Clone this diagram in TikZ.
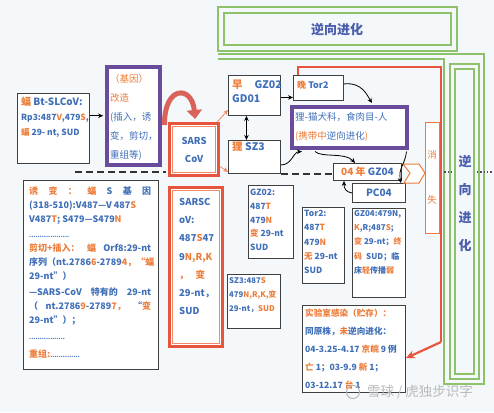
\documentclass[tikz,border=0pt]{standalone}
\usepackage{fontspec}
\setmainfont{Noto Sans CJK SC}
\usetikzlibrary{arrows.meta,calc}
\definecolor{tb}{HTML}{3F6FB8}
\definecolor{to}{HTML}{EE7D3A}
\definecolor{pur}{HTML}{6A4C9C}
\definecolor{grn}{HTML}{8DC26A}
\definecolor{rl}{HTML}{E8553E}
\definecolor{rl2}{HTML}{F08A68}
\definecolor{bord}{HTML}{404040}
\definecolor{bgc}{HTML}{F4F8FB}
\definecolor{vt}{HTML}{4B5FAE}
\definecolor{bigarr}{HTML}{D9625A}
\newcommand{\oc}[1]{\textcolor{to}{#1}}
\begin{document}
\begin{tikzpicture}[x=1pt,y=-1pt,
 box/.style={draw=bord,line width=0.9pt,fill=white,anchor=north west,inner sep=0pt},
 pbox/.style={draw=pur,line width=3.5pt,fill=white,anchor=north west,inner sep=0pt},
 rbox/.style={draw=rl,line width=3.2pt,fill=white,anchor=north west,inner sep=0pt},
 txt/.style={anchor=north west,inner sep=0pt,align=left,text=tb},
 arr/.style={-{Stealth[length=5pt,width=4.5pt]},line width=0.8pt,black},
 oarr/.style={-{Stealth[length=5pt,width=4.5pt]},line width=0.8pt,rl2},
 gl/.style={draw=grn,line width=2.2pt},
 dashln/.style={line width=1.3pt,dash pattern=on 7pt off 4pt,black!80},
]
\fill[bgc] (0,0) rectangle (494,412);
\useasboundingbox (0,0) rectangle (494,412);

% green frames
\draw[gl] (218,7) rectangle (457,51);
\draw[gl] (224,13) rectangle (451,45);
\node[text=vt,font=\fontsize{13}{15}\selectfont\bfseries] (ttl) at (337,30) {逆向进化};
\draw[gl] (218,54) -- (484,54) -- (484,384) -- (444,384) -- (444,59) -- (218,59);
\draw[gl] (450,64) rectangle (479,379);
\draw[gl] (455,69) rectangle (474,374);
\node[text=vt,font=\fontsize{13}{15}\selectfont\bfseries] (v1) at (465,162) {逆};
\node[text=vt,font=\fontsize{13}{15}\selectfont\bfseries] (v2) at (465,190) {向};
\node[text=vt,font=\fontsize{13}{15}\selectfont\bfseries] (v3) at (465,218) {进};
\node[text=vt,font=\fontsize{13}{15}\selectfont\bfseries] (v4) at (465,246) {化};
\coordinate (d1) at (441,172); \coordinate (d2) at (452,172);
\coordinate (d3) at (477,172); \coordinate (d4) at (492,172);
\draw[dotted,line width=1.3pt,black!70] (d1) -- (d2) (d3) -- (d4);

% boxes
\node[box,minimum width=72pt,minimum height=70pt] (bt) at (17,93) {};
\node[pbox,minimum width=53pt,minimum height=98pt] (pb1) at (105,65) {};
\node[rbox,minimum width=49pt,minimum height=52pt] (sars1) at (168,122) {};
\draw[rl2,line width=0.9pt] ($(sars1.north west)+(4.5,4.5)$) rectangle ($(sars1.south east)+(-4.5,-4.5)$);
\node[rbox,minimum width=53pt,minimum height=159pt] (sars2) at (168,186) {};
\draw[rl2,line width=0.9pt] ($(sars2.north west)+(4.5,4.5)$) rectangle ($(sars2.south east)+(-4.5,-4.5)$);
\node[box,minimum width=52pt,minimum height=40pt] (gd) at (228,75) {};
\node[box,minimum width=52pt,minimum height=33pt] (sz3) at (228,140) {};
\node[box,minimum width=50pt,minimum height=25pt] (tor2) at (293,75) {};
\node[pbox,minimum width=115pt,minimum height=41pt] (pb2) at (290,105) {};
\node[box,minimum width=68pt,minimum height=17pt] (gz04) at (333,163) {};
\node[box,minimum width=53pt,minimum height=19pt] (pc04) at (352,183) {};
\node[draw=to,line width=1pt,fill=white,anchor=north west,inner sep=0pt,minimum width=14pt,minimum height=111pt] (xs) at (425,122) {};
\draw[to,line width=1pt,fill=white] (403,164) -- (419,164) -- (425,173) -- (419,183) -- (404,183) -- (410,173) -- cycle;
\node[box,minimum width=135pt,minimum height=189pt] (lt) at (23,180) {};
\node[box,minimum width=45pt,minimum height=73pt] (gz02i) at (248,185) {};
\node[box,minimum width=42pt,minimum height=76pt] (tor2i) at (302,207) {};
\node[box,minimum width=53pt,minimum height=89pt] (gz04i) at (352,208) {};
\node[box,minimum width=53pt,minimum height=54pt] (sz3i) at (227,274) {};
\node[box,minimum width=103pt,minimum height=87pt] (lab) at (302,305) {};

% texts
\node[txt,font=\fontsize{8.5}{15}\selectfont\bfseries] (tbt) at (21,97) {{\fontsize{10}{15}\selectfont\oc{蝠} Bt-SLCoV:}\\Rp3:487\oc{V},479\oc{S},\\\oc{蝠} 29- nt, SUD};
\node[txt,font=\fontsize{9.5}{19}\selectfont] (tpb1) at (110,74) {\oc{（基因）}\\\oc{改造}\\(插入，诱\\变，剪切，\\重组等)};
\node[text=tb,font=\fontsize{9.5}{18}\selectfont\bfseries,align=center] (tsars1) at (sars1.center) {SARS\\CoV};
\node[txt,font=\fontsize{9.5}{18.2}\selectfont\bfseries] (tsars2) at (179,198) {SARSC\\oV:\\487\oc{S}47\\9\oc{N,R,K}\\\oc{，\hspace{7pt}变}\\29-nt，\\SUD};
\node[txt,font=\fontsize{10.5}{14}\selectfont\bfseries] (tgd) at (232,80) {\oc{早}\hspace{12pt}GZ02\\GD01};
\node[txt,font=\fontsize{10.5}{14}\selectfont\bfseries] (tsz3) at (232,142) {\oc{狸} SZ3};
\node[txt,font=\fontsize{9}{14}\selectfont\bfseries] (ttor2) at (297,81) {\oc{晚} Tor2};
\node[txt,font=\fontsize{9.5}{19}\selectfont] (tpb2) at (295,112) {狸-猫犬科，食肉目-人\\\oc{(携带中}逆向进化\oc{)}};
\node[text=tb,font=\fontsize{10}{12}\selectfont\bfseries] (tgz04) at (gz04.center) {\oc{04 年} GZ04};
\node[text=tb,font=\fontsize{10}{12}\selectfont\bfseries] (tpc04) at (pc04.center) {PC04};
\node[text=to,font=\fontsize{9.5}{12}\selectfont] (txs1) at (432,155) {消};
\node[text=to,font=\fontsize{9.5}{12}\selectfont] (txs2) at (432,200) {失};
\node[txt,font=\fontsize{9}{14}\selectfont\bfseries] (tlt) at (29,186) {%
\makebox[122pt][l]{\oc{诱}\hfill\oc{变}\hfill\oc{：}\hfill\oc{蝠}\hfill S\hfill 基\hfill 因}\\
(318-510):V487---V 487\oc{S}\\
V487\oc{T}; S479---S479\oc{N}\\[1pt]
{\fontsize{6}{8}\selectfont ...................}\\
\makebox[122pt][l]{\oc{剪切+插入：}\hfill\oc{蝠}\hfill Orf8:29-nt}\\
\makebox[122pt][l]{序列（nt.2786\oc{6}-2789\oc{4，}\hfill\oc{“蝠}}\\
29-nt”）\\[2pt]
\makebox[122pt][l]{—SARS-CoV\hfill 特有的\hfill 29-nt}\\
\makebox[122pt][l]{（\hfill nt.2786\oc{9}-2789\oc{7，}\hfill“\oc{变}}\\
29-nt”）；\\[2pt]
{\fontsize{6}{8}\selectfont .................}\\[4pt]
\oc{重组:}{\fontsize{6}{8}\selectfont ..............}};
\node[txt,font=\fontsize{8.5}{13.7}\selectfont\bfseries] (tgz02i) at (250,189) {GZ02:\\487\oc{T}\\479\oc{N}\\\oc{变} 29-nt\\SUD};
\node[txt,font=\fontsize{8.5}{14.3}\selectfont\bfseries] (ttor2i) at (304,210) {Tor2:\\487\oc{T}\\479\oc{N}\\\oc{无} 29-nt\\SUD};
\node[txt,font=\fontsize{8}{14.3}\selectfont\bfseries] (tgz04i) at (354,210) {GZ04:479N,\\\oc{K},R;487\oc{S};\\\oc{变} 29-nt；\oc{终}\\\oc{码}\hspace{4pt}SUD；临\\床\oc{轻}传播\oc{弱}};
\node[txt,font=\fontsize{7.8}{14}\selectfont\bfseries] (tsz3i) at (229,277) {SZ3:487\oc{S}\\479\oc{N,R,K,变}\\29-nt，\oc{SUD}};
\node[txt,font=\fontsize{8.6}{18}\selectfont\bfseries] (tlab) at (305,309) {\oc{实验室感染（贮存）：}\\同原株，\oc{未}逆向进化：\\04-3.25-4.17 \oc{京皖} 9 例\\\oc{亡} 1；03-9.9 \oc{新} 1；\\03-12.17 \oc{台} 1};

% watermark
\draw[gray!55,line width=1pt] (353,392) circle (6.5);
\node[text=gray!55,font=\fontsize{13.5}{15}\selectfont] (wm) at (420,392) {雪球 / 虎独步识字};

% connectors
\draw[arr,shorten >=1.8pt] (bt.east |- pb1.west) -- (pb1.west);
\draw[line width=5pt,bigarr,-{Triangle[length=9pt,width=15pt]}] ($(pb1.north east)+(3,60)$) .. controls (164,85) and (192,85) .. ($(sars1.north)+(1,-3)$);
\coordinate (dL) at (75,172); \coordinate (dR) at (166,172);
\draw[dashln] (dL) -- (dR);
\draw[dashln] (sz3.south east) -- (gz04.west |- sz3.south east);
\draw[oarr] ($(sars1.north east)+(-3,0)$) -- ($(gd.south west)+(0,-6)$);
\draw[oarr] ($(sars1.east)+(0,17)$) -- ($(sz3.south west)+(0,-2)$);
\draw[{Stealth[length=5pt,width=4.5pt]}-{Stealth[length=5pt,width=4.5pt]},line width=0.8pt] ($(gd.south)+(-8,0)$) -- ($(sz3.north)+(-8,0)$);
\draw[arr] ($(gd.east)+(0,2)$) -- ($(tor2.west)+(0,9.5)$);
\draw[arr] ($(tor2.east)+(0,-4)$) .. controls (362,82) and (367,95) .. ($(pb2.north west)+(82,-2)$);
\draw[arr] ($(sz3.east)+(0,8)$) .. controls (292,165) and (293,152) .. ($(pb2.south west)+(12,2)$);
\draw[arr] ($(pb2.south west)+(25,2)$) .. controls (322,158) and (345,152) .. ($(gz04.north west)+(22,0)$);
\draw[arr] ($(pb2.south east)+(-2,2)$) .. controls (405,165) and (398,168) .. ($(pc04.north east)+(-5,0)$);
\draw[arr] (pc04.west) .. controls (346,192) and (344,189) .. ($(gz04.south west)+(11,0)$);

% red frame
\coordinate (r1) at (298,75); \coordinate (r2) at (298,67); \coordinate (r3) at (441,67); \coordinate (r4) at (441,342);
\draw[rl,line width=2.2pt] (r1) -- (r2) -- (r3) -- (r4);
\draw[rl,line width=2.2pt,-{Stealth[length=9pt,width=8pt]}] (r4) -- (lab.-10);
\end{tikzpicture}
\end{document}
